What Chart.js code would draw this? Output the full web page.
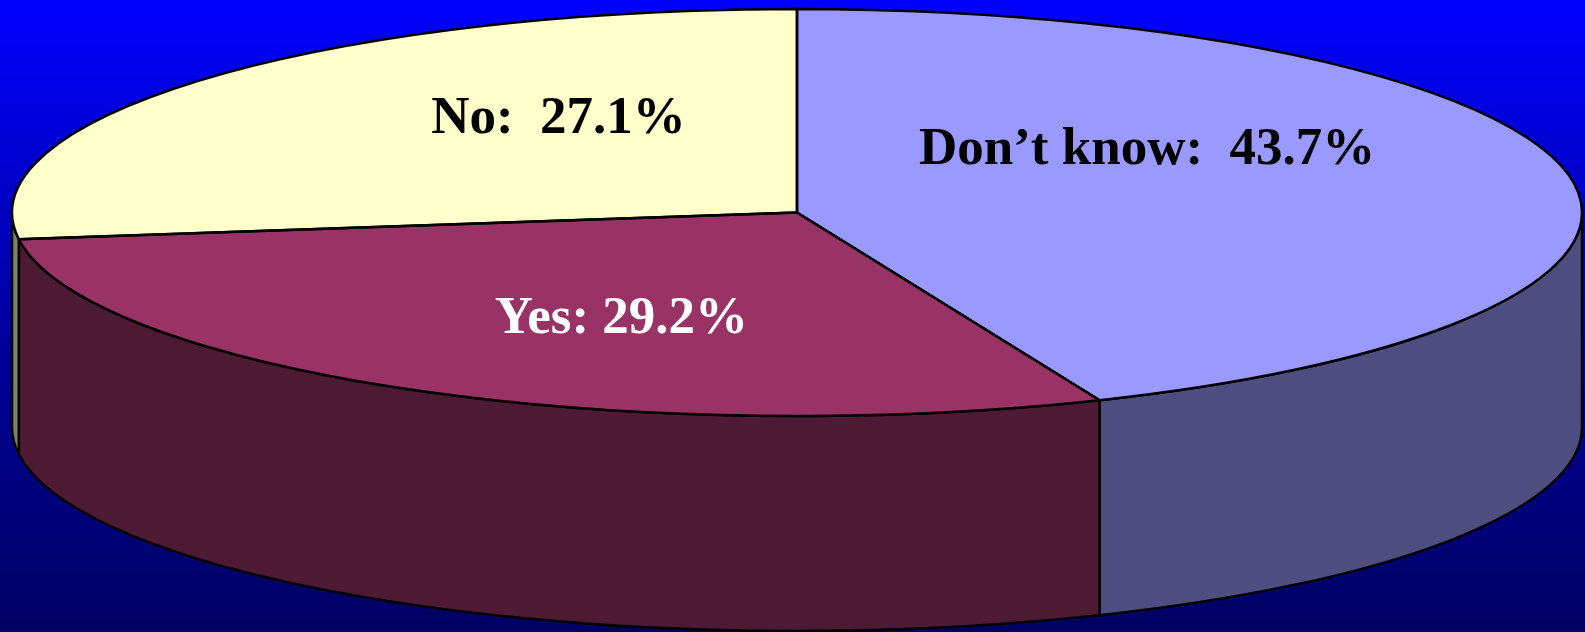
<!DOCTYPE html>
<html>
<head>
<meta charset="utf-8">
<script src="https://cdn.jsdelivr.net/npm/chart.js@4/dist/chart.umd.min.js"></script>
<style>
  html, body { margin: 0; padding: 0; width: 1585px; height: 632px; overflow: hidden; }
  body { background: linear-gradient(to bottom, #0000ff 0%, #00009a 55%, #000062 100%); }
  #wrap { position: relative; width: 1585px; height: 632px; }
  canvas { display: block; }
</style>
</head>
<body>
<div id="wrap"><canvas id="c" width="1585" height="632"></canvas></div>
<script>
const categories = ['Don’t know', 'Yes', 'No'];
const values = [43.7, 29.2, 27.1];
const labelGaps = ['  ', ' ', '  '];
const topColors = ['#9999ff', '#993366', '#ffffcc'];
const sideColors = ['#4d4d7f', '#4c1a33', '#808066'];
const labelColors = ['#000000', '#ffffff', '#000000'];
// label placement: x as a fraction of the horizontal radius, baseline as a fraction of the vertical radius
const labelAnchors = [[0.446, -0.238], [-0.2236, 0.592], [-0.3038, -0.391]];

// vertical squash of the tilted disc (ry / rx)
const TILT = 0.2592;
const EDGE_WIDTH = 2.5;

function geometry(chart) {
  const a = chart.chartArea;
  const rx = (a.right - a.left) / 2;
  const ry = rx * TILT;
  const cx = (a.left + a.right) / 2;
  const cy = a.top + ry;
  const depth = a.bottom - cy - ry;
  return { rx, ry, cx, cy, depth };
}

const pie3d = {
  id: 'pie3d',
  beforeDatasetsDraw(chart) {
    const ctx = chart.ctx;
    const g = geometry(chart);
    const arcs = chart.getDatasetMeta(0).data;

    // extruded walls; only the front half (angles 0..π) faces the viewer
    ctx.save();
    ctx.lineWidth = EDGE_WIDTH;
    ctx.strokeStyle = '#000';
    ctx.lineJoin = 'round';
    arcs.forEach((arc, i) => {
      const s = Math.max(arc.startAngle, 0);
      const e = Math.min(arc.endAngle, Math.PI);
      if (e <= s) return;
      ctx.beginPath();
      ctx.ellipse(g.cx, g.cy, g.rx, g.ry, 0, s, e);
      ctx.lineTo(g.cx + g.rx * Math.cos(e), g.cy + g.depth + g.ry * Math.sin(e));
      ctx.ellipse(g.cx, g.cy + g.depth, g.rx, g.ry, 0, e, s, true);
      ctx.closePath();
      ctx.fillStyle = sideColors[i];
      ctx.fill();
      ctx.stroke();
    });
    ctx.restore();

    // map the library's circular arcs onto the tilted ellipse
    const a0 = arcs[0];
    const r = a0.outerRadius;
    ctx.save();
    ctx.translate(g.cx, g.cy);
    ctx.scale(g.rx / r, g.ry / r);
    ctx.translate(-a0.x, -a0.y);
  },
  afterDatasetsDraw(chart) {
    const ctx = chart.ctx;
    ctx.restore();
    const g = geometry(chart);
    const arcs = chart.getDatasetMeta(0).data;

    // slice outlines on the top face
    ctx.save();
    ctx.lineWidth = EDGE_WIDTH;
    ctx.strokeStyle = '#000';
    ctx.lineJoin = 'round';
    arcs.forEach(arc => {
      ctx.beginPath();
      ctx.moveTo(g.cx, g.cy);
      ctx.ellipse(g.cx, g.cy, g.rx, g.ry, 0, arc.startAngle, arc.endAngle);
      ctx.closePath();
      ctx.stroke();
    });

    // value labels
    ctx.font = 'bold 53px "Liberation Serif", "Times New Roman", serif';
    ctx.textAlign = 'center';
    ctx.textBaseline = 'alphabetic';
    categories.forEach((c, i) => {
      ctx.fillStyle = labelColors[i];
      const [fx, fy] = labelAnchors[i];
      const text = c + ':' + labelGaps[i] + values[i].toFixed(1) + '%';
      ctx.fillText(text, g.cx + fx * g.rx, g.cy + fy * g.ry);
    });
    ctx.restore();
  }
};

new Chart(document.getElementById('c'), {
  type: 'pie',
  data: {
    labels: categories,
    datasets: [{
      data: values,
      backgroundColor: topColors,
      borderWidth: 0,
      clip: false
    }]
  },
  options: {
    responsive: false,
    devicePixelRatio: 1,
    animation: false,
    events: [],
    layout: { padding: { left: 12, right: 3, top: 9, bottom: 1 } },
    plugins: {
      legend: { display: false },
      tooltip: { enabled: false }
    }
  },
  plugins: [pie3d]
});
</script>
</body>
</html>
